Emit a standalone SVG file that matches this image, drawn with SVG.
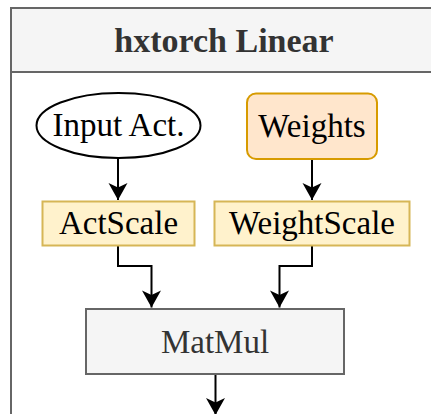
<svg xmlns="http://www.w3.org/2000/svg" width="431" height="414" viewBox="0 0 431 414">
<style>
text{font-family:"Liberation Serif","Times New Roman",serif;text-anchor:middle;font-size:33px;fill:#000}
.title{font-weight:bold;fill:#333;font-size:34px}
.gray{fill:#333}
.edge{fill:none;stroke:#000;stroke-width:2}
</style>
<defs>
<marker id="arr" markerUnits="userSpaceOnUse" markerWidth="22" markerHeight="22" viewBox="-19 -11 22 22" refX="0" refY="0" orient="auto">
<path d="M0,0 L-17,-9.5 L-12.5,0 L-17,9.5 Z" fill="#000"/>
</marker>
</defs>
<g id="container">
<rect x="11" y="8" width="440" height="430" fill="#fff" stroke="#666" stroke-width="2"/>
<rect x="11" y="8" width="440" height="64" fill="#f5f5f5" stroke="#666" stroke-width="2"/>
<text class="title" x="224" y="52">hxtorch Linear</text>
</g>
<g id="edges">
<path class="edge" d="M118,158 V200" marker-end="url(#arr)"/>
<path class="edge" d="M312,159 V200" marker-end="url(#arr)"/>
<path class="edge" d="M118,245 V266 H151.5 V307.5" marker-end="url(#arr)"/>
<path class="edge" d="M312,245 V266 H279.5 V307.5" marker-end="url(#arr)"/>
<path class="edge" d="M215.5,374 V415" marker-end="url(#arr)"/>
</g>
<g id="input">
<ellipse cx="118.5" cy="125.5" rx="82" ry="32.5" fill="#fff" stroke="#000" stroke-width="2"/>
<text x="118.5" y="136">Input Act.</text>
</g>
<g id="weights">
<rect x="247" y="93.5" width="130" height="65.5" rx="9" fill="#ffe6cc" stroke="#d79b00" stroke-width="2"/>
<text x="312" y="137">Weights</text>
</g>
<g id="actscale">
<rect x="42.5" y="201.5" width="152" height="44" fill="#fff2cc" stroke="#d6b656" stroke-width="2"/>
<text x="118.5" y="234">ActScale</text>
</g>
<g id="weightscale">
<rect x="214.5" y="201.5" width="195" height="44" fill="#fff2cc" stroke="#d6b656" stroke-width="2"/>
<text x="312" y="234">WeightScale</text>
</g>
<g id="matmul">
<rect x="86" y="309" width="258" height="65" fill="#f5f5f5" stroke="#666" stroke-width="2"/>
<text class="gray" x="215" y="353">MatMul</text>
</g>
</svg>
